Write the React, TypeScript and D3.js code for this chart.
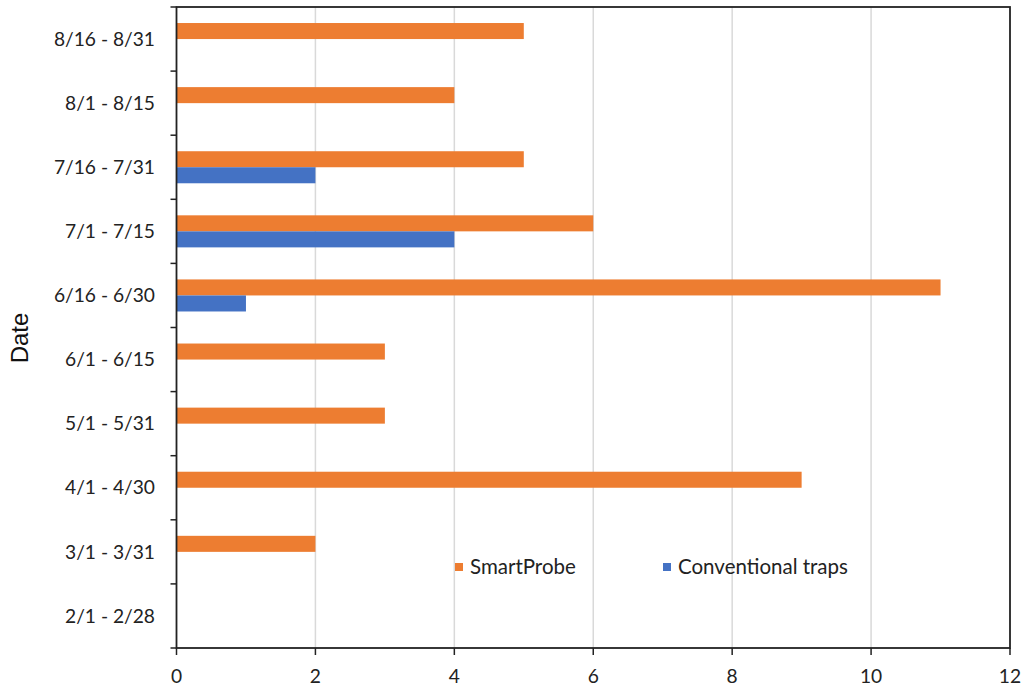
import React from "react";
import * as d3 from "d3";

const categories = ["2/1 - 2/28", "3/1 - 3/31", "4/1 - 4/30", "5/1 - 5/31", "6/1 - 6/15", "6/16 - 6/30", "7/1 - 7/15", "7/16 - 7/31", "8/1 - 8/15", "8/16 - 8/31"];
const smartProbe = [0, 2, 9, 3, 3, 11, 6, 5, 4, 5];
const conventional = [0, 0, 0, 0, 0, 1, 4, 2, 0, 0];
const xTicks = [0, 2, 4, 6, 8, 10, 12];
const seriesNames = ["SmartProbe", "Conventional traps"];
const seriesColors = ["#ED7D31", "#4472C4"];

export default function App() {
  const W = 1021, H = 690;
  const left = 176.5, right = 1010, top = 7, bottom = 648;
  const x = d3.scaleLinear().domain([0, 12]).range([left, right]);
  const y = d3.scaleBand<string>().domain([...categories].reverse()).range([top, bottom]);
  const bw = y.bandwidth();
  const barH = bw / 4;
  const font = "Lato, 'Open Sans', sans-serif";
  const series = [smartProbe, conventional];
  const bounds = [top, ...categories.map((_, i) => top + bw * (i + 1))];
  return (
    <svg width={W} height={H} style={{ position: "absolute", left: 0, top: 0 }}>
      <rect x={0} y={0} width={W} height={H} fill="#fff" />
      {xTicks.slice(1, -1).map((t) => (
        <line key={t} x1={x(t)} x2={x(t)} y1={top} y2={bottom} stroke="#D9D9D9" strokeWidth={1.5} />
      ))}
      {categories.map((c, i) => (
        <g key={c}>
          {series.map((s, k) =>
            s[i] > 0 ? (
              <rect key={k} x={x(0)} y={(y(c) as number) + bw / 4 + k * barH} width={x(s[i]) - x(0)} height={barH} fill={seriesColors[k]} />
            ) : null
          )}
          <text x={155} y={(y(c) as number) + bw / 2} dy="0.35em" textAnchor="end" fontFamily={font} fontSize={19.2} fill="#222">{c}</text>
        </g>
      ))}
      <rect x={left} y={top} width={right - left} height={bottom - top} fill="none" stroke="#222" strokeWidth={1.8} />
      {bounds.map((b, i) => (
        <line key={i} x1={left - 6} x2={left} y1={b} y2={b} stroke="#222" strokeWidth={1.5} />
      ))}
      {xTicks.map((t) => (
        <g key={t}>
          <line x1={x(t)} x2={x(t)} y1={bottom} y2={bottom + 7} stroke="#222" strokeWidth={1.5} />
          <text x={x(t)} y={683} textAnchor="middle" fontFamily={font} fontSize={19.2} fill="#222">{t}</text>
        </g>
      ))}
      <text transform={`translate(28,338) rotate(-90)`} textAnchor="middle" fontFamily="'Liberation Sans', Arial, sans-serif" fontSize={24} fill="#111">Date</text>
      {seriesNames.map((n, k) => {
        const lx = [455, 663][k];
        return (
          <g key={n}>
            <rect x={lx} y={563} width={8} height={8} fill={seriesColors[k]} />
            <text x={lx + 15} y={567} dy="0.35em" fontFamily={font} fontSize={20.5} fill="#222">{n}</text>
          </g>
        );
      })}
    </svg>
  );
}
